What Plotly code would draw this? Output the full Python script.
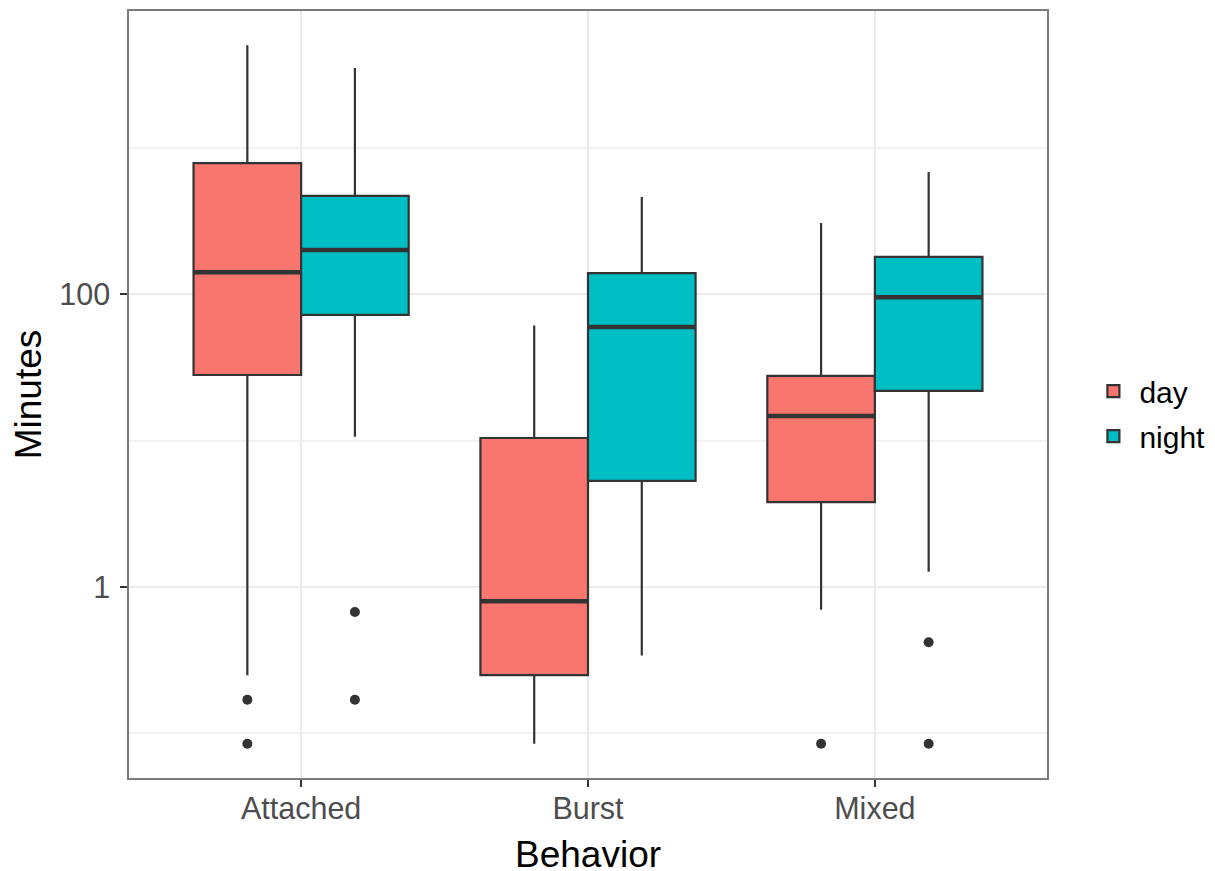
import plotly.graph_objects as go

categories = ["Attached", "Burst", "Mixed"]

day_lower = [0.25, 0.085, 0.70]
day_q1 = [28, 0.25, 3.8]
day_median = [141, 0.80, 14.7]
day_q3 = [783, 10.4, 27.6]
day_upper = [5000, 61, 305]
day_outliers = [[0.17, 0.085], [], [0.085]]

night_lower = [10.6, 0.34, 1.27]
night_q1 = [72, 5.3, 21.8]
night_median = [200, 59.6, 95]
night_q3 = [467, 139, 179]
night_upper = [3490, 459, 680]
night_outliers = [[0.675, 0.17], [], [0.42, 0.085]]

DAY_COLOR = "#F8766D"
NIGHT_COLOR = "#00BFC4"
EDGE = "#333333"
BORDER = "#7A7A7A"
BOX_W = 0.375
FONT = "Liberation Sans, Arial, sans-serif"

base = list(range(len(categories)))
groups = [
    ("day", DAY_COLOR, -BOX_W / 2, day_lower, day_q1, day_median, day_q3, day_upper, day_outliers),
    ("night", NIGHT_COLOR, BOX_W / 2, night_lower, night_q1, night_median, night_q3, night_upper, night_outliers),
]

fig = go.Figure()
for name, color, off, lo, q1, med, q3, up, outs in groups:
    xs = [b + off for b in base]
    fig.add_trace(go.Box(
        x=xs, q1=q1, median=med, q3=q3, lowerfence=lo, upperfence=up,
        width=BOX_W, fillcolor=color, line=dict(color=EDGE, width=2.2),
        whiskerwidth=0, boxpoints=False, name=name, showlegend=True, legendgroup=name,
    ))
    # thick median lines
    mx, my = [], []
    for x, m in zip(xs, med):
        mx += [x - BOX_W / 2, x + BOX_W / 2, None]
        my += [m, m, None]
    fig.add_trace(go.Scatter(x=mx, y=my, mode="lines", line=dict(color=EDGE, width=4.5),
                             showlegend=False, hoverinfo="skip", legendgroup=name))
    # outliers
    ox, oy = [], []
    for x, o in zip(xs, outs):
        ox += [x] * len(o)
        oy += o
    fig.add_trace(go.Scatter(x=ox, y=oy, mode="markers", legendgroup=name,
                             marker=dict(color=EDGE, size=10), showlegend=False, hoverinfo="skip"))

# page body has an 8px default margin, so the figure is sized to fit inside it
fig.update_layout(
    width=1207, height=863,
    margin=dict(l=121, r=168, t=3, b=93, autoexpand=False),
    paper_bgcolor="white", plot_bgcolor="white",
    font=dict(family=FONT, color="black"),
    showlegend=True,
    legend=dict(x=1.044, xanchor="left", y=0.475, yanchor="middle",
                font=dict(size=30, color="black"), bgcolor="rgba(0,0,0,0)",
                tracegroupgap=3, itemwidth=42),
    annotations=[dict(text="Behavior", xref="paper", yref="paper", x=0.5, y=-0.1,
                      xanchor="center", yanchor="middle", showarrow=False,
                      font=dict(size=37, color="black", family=FONT))],
)
fig.update_xaxes(
    automargin=False,
    range=[-0.6, len(categories) - 0.4],
    tickvals=base, ticktext=categories,
    showgrid=True, gridcolor="#EBEBEB", gridwidth=2,
    zeroline=False,
    showline=True, mirror=True, linecolor=BORDER, linewidth=1.5,
    ticks="outside", ticklen=7, tickwidth=2, tickcolor=EDGE,
    ticklabelstandoff=-4,
    tickfont=dict(size=30.5, color="#4D4D4D", family=FONT),
)
fig.update_yaxes(
    automargin=False,
    type="log", range=[-1.304, 3.932],
    tickvals=[1, 100], ticktext=["1", "100"],
    showgrid=True, gridcolor="#EBEBEB", gridwidth=2,
    minor=dict(tickvals=[0.1, 10, 1000], showgrid=True, gridcolor="#F2F2F2", gridwidth=1.5, ticks=""),
    zeroline=False,
    showline=True, mirror=True, linecolor=BORDER, linewidth=1.5,
    ticks="outside", ticklen=7, tickwidth=2, tickcolor=EDGE,
    ticklabelstandoff=4,
    tickfont=dict(size=30.5, color="#4D4D4D", family=FONT),
    title=dict(text="Minutes", font=dict(size=37, color="black", family=FONT), standoff=10),
)

fig.write_html("out.html")
